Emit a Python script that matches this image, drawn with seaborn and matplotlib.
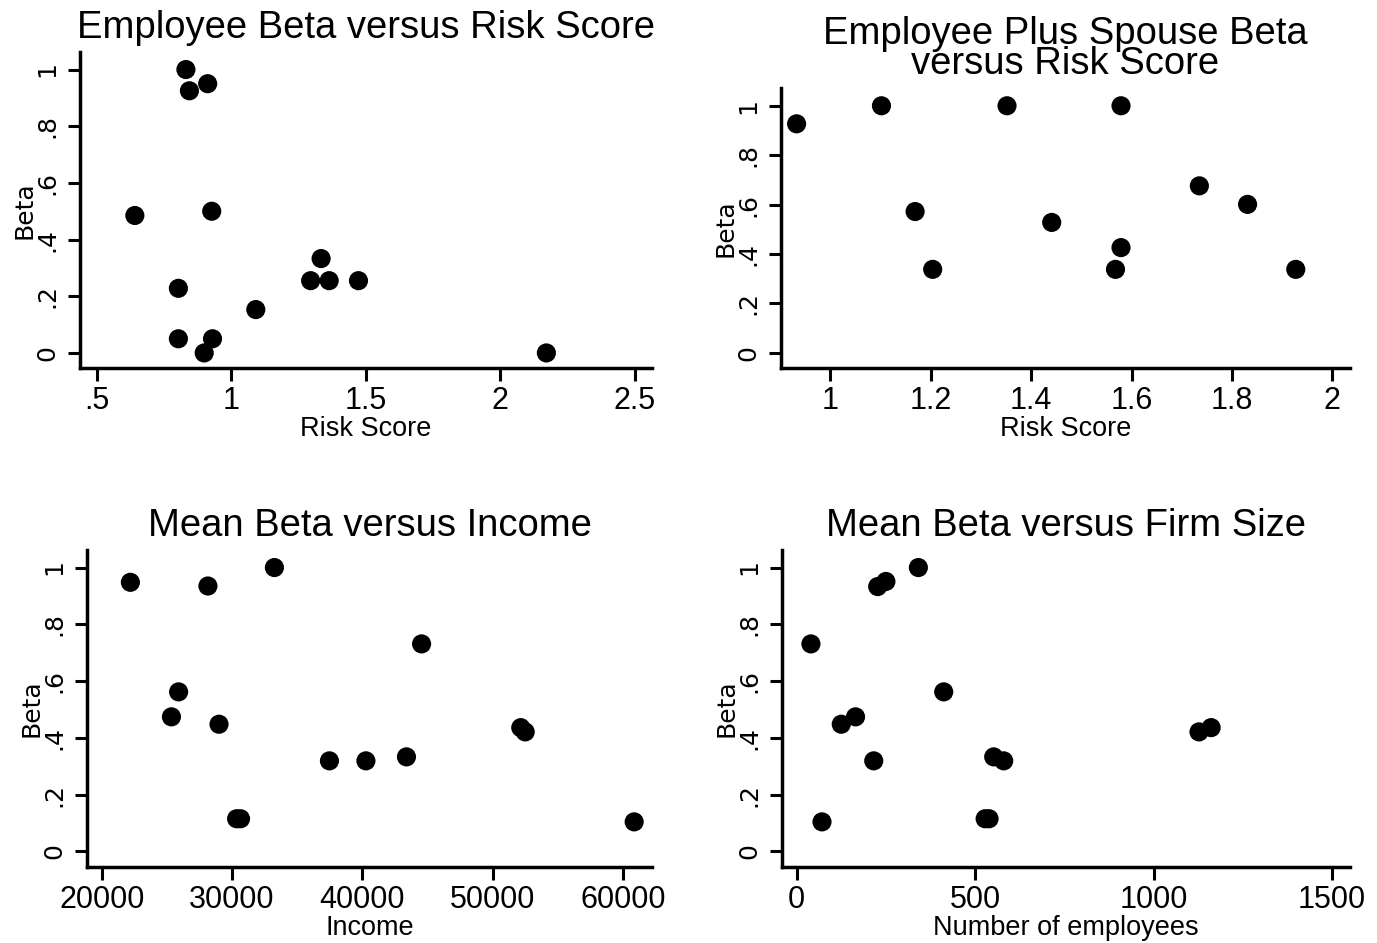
import matplotlib
matplotlib.use("Agg")
import matplotlib.pyplot as plt
import seaborn as sns
import pandas as pd

# ---- data ----
emp_risk = [0.831, 0.844, 0.912, 0.641, 0.927, 0.803, 1.091, 1.295, 1.364, 1.473, 1.334, 0.803, 0.930, 0.899, 2.172]
emp_beta = [1.0, 0.925, 0.95, 0.485, 0.50, 0.228, 0.153, 0.255, 0.255, 0.255, 0.333, 0.05, 0.05, 0.0, 0.0]

sp_risk = [0.933, 1.102, 1.352, 1.579, 1.169, 1.204, 1.441, 1.579, 1.568, 1.735, 1.831, 1.927]
sp_beta = [0.927, 1.0, 1.0, 1.0, 0.572, 0.338, 0.528, 0.426, 0.338, 0.676, 0.601, 0.338]

income = [22200, 28150, 33250, 25900, 25350, 29000, 30350, 30650, 37470, 40270, 43380, 44540, 52150, 52490, 60850]
inc_beta = [0.948, 0.935, 1.0, 0.562, 0.474, 0.448, 0.115, 0.115, 0.319, 0.319, 0.333, 0.731, 0.436, 0.421, 0.104]

firm_size = [40, 71, 125, 165, 216, 227, 250, 341, 412, 528, 539, 552, 580, 1127, 1161]
firm_beta = [0.731, 0.104, 0.448, 0.474, 0.319, 0.933, 0.951, 1.0, 0.562, 0.115, 0.115, 0.333, 0.319, 0.421, 0.436]

titles = ["Employee Beta versus Risk Score",
          "Employee Plus Spouse Beta\nversus Risk Score",
          "Mean Beta versus Income",
          "Mean Beta versus Firm Size"]
xlabels = ["Risk Score", "Risk Score", "Income", "Number of employees"]
ylabel = "Beta"
yticks = [0, 0.2, 0.4, 0.6, 0.8, 1.0]
ytick_labels = ["0", ".2", ".4", ".6", ".8", "1"]
xticks_list = [[0.5, 1, 1.5, 2, 2.5],
               [1, 1.2, 1.4, 1.6, 1.8, 2],
               [20000, 30000, 40000, 50000, 60000],
               [0, 500, 1000, 1500]]
xtick_labels_list = [[".5", "1", "1.5", "2", "2.5"],
                     ["1", "1.2", "1.4", "1.6", "1.8", "2"],
                     ["20000", "30000", "40000", "50000", "60000"],
                     ["0", "500", "1000", "1500"]]
xlims = [(0.437, 2.565), (0.902, 2.035), (18874, 62218), (-41, 1550)]
ylims = [(-0.053, 1.062), (-0.061, 1.072), (-0.055, 1.062), (-0.055, 1.062)]

sns.set_theme(style="white")
plt.rcParams['font.family'] = ['DejaVu Sans']
plt.rcParams.update({"text.color": "black", "axes.labelcolor": "black",
                     "xtick.color": "black", "ytick.color": "black"})

narrow = ['Liberation Sans', 'DejaVu Sans']

fig = plt.figure(figsize=(13.77, 9.43), dpi=100)
positions = [
    [0.0581, 0.6098, 0.4154, 0.3351],
    [0.5672, 0.6098, 0.4132, 0.2969],
    [0.0632, 0.0806, 0.4103, 0.3362],
    [0.5679, 0.0806, 0.4125, 0.3362],
]
data = [(emp_risk, emp_beta), (sp_risk, sp_beta), (income, inc_beta), (firm_size, firm_beta)]

for i, pos in enumerate(positions):
    ax = fig.add_axes(pos)
    xs, ys = data[i]
    df = pd.DataFrame({"x": xs, "y": ys})
    sns.scatterplot(data=df, x="x", y="y", ax=ax, color="black", s=190,
                    edgecolor="none", linewidth=0, legend=False)
    ax.set_xlim(*xlims[i])
    ax.set_ylim(*ylims[i])
    ax.set_xticks(xticks_list[i])
    ax.set_xticklabels(xtick_labels_list[i], family=narrow, fontsize=22)
    ax.set_yticks(yticks)
    ax.set_yticklabels(ytick_labels, rotation=90, va="center", fontsize=18)
    for s in ["top", "right"]:
        ax.spines[s].set_visible(False)
    for s in ["left", "bottom"]:
        ax.spines[s].set_color("black")
        ax.spines[s].set_linewidth(2.5)
    ax.tick_params(axis="both", direction="out", length=9, width=2.2, color="black",
                   bottom=True, left=True, labelcolor="black")
    ax.tick_params(axis="x", pad=4)
    ax.tick_params(axis="y", pad=6)
    ax.set_xlabel(xlabels[i], family=narrow, fontsize=19.5, labelpad=0)
    ax.set_ylabel(ylabel, fontsize=18, labelpad=-1)
    ax.set_title(titles[i], family=narrow, fontsize=27.5, pad=10, linespacing=0.8)
    ax.set_facecolor("white")

fig.savefig("out.png", dpi=100, facecolor="white")
